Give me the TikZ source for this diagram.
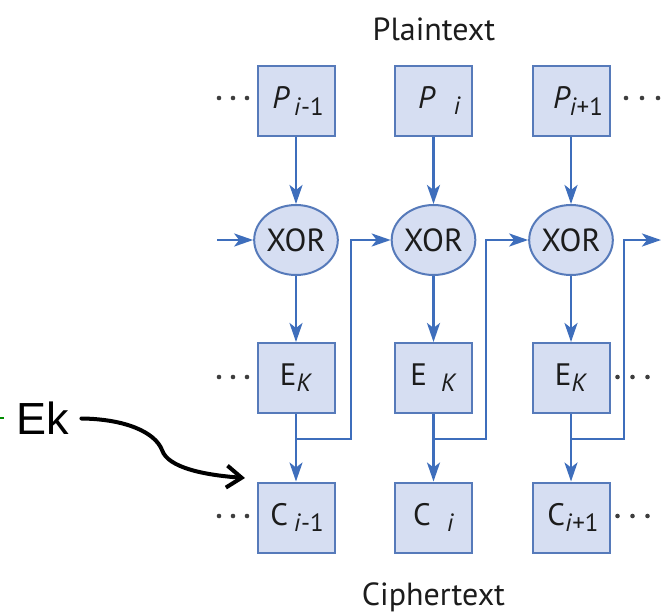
\documentclass[tikz,border=0pt]{standalone}
\usepackage{fontspec}
\setmainfont{PT Sans}
\newfontfamily\arialfont{Liberation Sans}
\usetikzlibrary{shapes.geometric,arrows.meta,calc}

\definecolor{linec}{RGB}{62,110,188}
\definecolor{boxline}{RGB}{86,122,186}
\definecolor{boxfill}{RGB}{214,222,242}
\definecolor{inkc}{RGB}{28,28,28}

% main symbol, subscript, gap, drop
\newcommand{\slab}[4]{#1\hspace{#3}\raisebox{-#4}{\fontsize{25}{25}\selectfont #2}}

\tikzset{
  blk/.style={rectangle, draw=boxline, fill=boxfill, line width=2pt,
    minimum width=77pt, minimum height=70pt, inner sep=0pt, text=inkc,
    font=\fontsize{31}{31}\selectfont},
  xo/.style={ellipse, draw=boxline, fill=boxfill, line width=2pt,
    minimum width=77pt, minimum height=70pt, inner sep=0pt, text=inkc,
    font=\fontsize{32}{32}\selectfont},
  flow/.style={draw=linec, line width=2.6pt,
    -{Stealth[length=19pt,width=13pt,inset=5pt]}},
  caption/.style={text=inkc, font=\fontsize{32}{32}\selectfont, anchor=base, inner sep=0pt},
  dotc/.style={fill=inkc!85},
}

\begin{document}
\begin{tikzpicture}[x=1pt,y=-1pt]
\fill[white] (0,0) rectangle (661,614);
\useasboundingbox (0,0) rectangle (661,614);

% captions
\node[caption] (pt) at (434,40) {Plaintext};
\node[caption] (ct) at (433.5,605) {Ciphertext};

% plaintext blocks
\node[blk] (p1) at (296,101) {\hspace{4pt}\slab{\textit{P}}{\textit{i}-1}{4pt}{7pt}};
\node[blk] (p2) at (433.5,101) {\hspace{12pt}\slab{\textit{P}}{\textit{i}}{18pt}{6pt}};
\node[blk] (p3) at (571,101) {\hspace{14pt}\slab{\textit{P}}{\textit{i}+1}{-1pt}{7pt}};

% XOR gates
\node[xo] (x1) at (296,240) {XOR};
\node[xo] (x2) at (433.5,240) {XOR};
\node[xo] (x3) at (571,240) {XOR};

% block ciphers
\node[blk] (e1) at (296,378) {\slab{E}{\textit{K}}{0pt}{6pt}};
\node[blk] (e2) at (433.5,378) {\slab{E}{\textit{K}}{14pt}{6pt}};
\node[blk] (e3) at (571,378) {\slab{E}{\textit{K}}{0pt}{6pt}};

% ciphertext blocks
\node[blk] (c1) at (296,517.5) {\hspace{2pt}\slab{C}{\textit{i}-1}{6pt}{6pt}};
\node[blk] (c2) at (433.5,517.5) {\slab{C}{\textit{i}}{16pt}{6pt}};
\node[blk] (c3) at (571,517.5) {\hspace{4pt}\slab{C}{\textit{i}+1}{0pt}{6pt}};

% vertical flow
\foreach \k in {1,2,3} {
  \draw[flow] (p\k) -- (x\k);
  \draw[flow] (x\k) -- (e\k);
  \draw[flow] (e\k) -- (c\k);
}

% chaining lines
\coordinate (in) at (217,240);
\coordinate (out) at (661,240);
\coordinate (j1) at (296,439);
\coordinate (j2) at (433.5,439);
\coordinate (j3) at (571,439);
\coordinate (k1) at (351,439);
\coordinate (k2) at (486,439);
\coordinate (k3) at (624,439);
\draw[flow] (in) -- (x1.west);
\draw[flow] (j1) -- (k1) |- (x2.west);
\draw[flow] (j2) -- (k2) |- (x3.west);
\draw[flow] (j3) -- (k3) |- (out);

% ellipsis dots
\foreach \dx in {-37.5,-23.5,-9.5} {
  \fill[dotc] ($(p1.west)+(\dx,-3)$) circle (2.3);
  \fill[dotc] ($(e1.west)+(\dx,-1)$) circle (2.3);
  \fill[dotc] ($(c1.west)+(\dx,-1.5)$) circle (2.3);
}
\foreach \dx in {15.5,31.5,47.5}
  \fill[dotc] ($(p3.east)+(\dx,-3)$) circle (2.3);
\foreach \dx in {7,22,37} {
  \fill[dotc] ($(e3.east)+(\dx,-1)$) circle (2.3);
  \fill[dotc] ($(c3.east)+(\dx,-1.5)$) circle (2.3);
}

% key annotation
\draw[green!55!black, line width=1.2pt] (0,418) -- (4,418);
\node[inner sep=0pt, inner xsep=12pt, font=\arialfont\fontsize{45}{45}\selectfont] (ek) at (43,418.5) {Ek};
\coordinate (ektip) at (245,478);
\draw[line width=4pt, line cap=round, -{Straight Barb[length=15pt,width=22pt]}]
  (ek.east) .. controls (125,419) and (155,432) .. (162,450)
  .. controls (168,468) and (205,475) .. (ektip);
\end{tikzpicture}
\end{document}
